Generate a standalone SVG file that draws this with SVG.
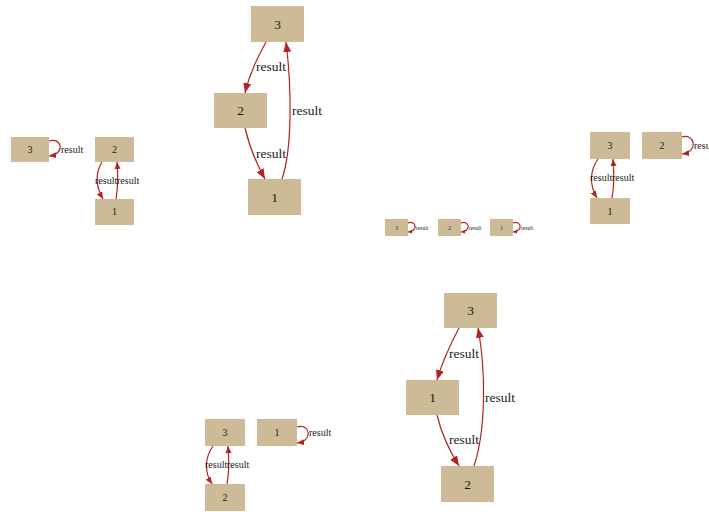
<svg xmlns="http://www.w3.org/2000/svg" width="709" height="512" viewBox="0 0 709 512">
<style>
.n rect{fill:#cdba96;stroke:none}
.n text,.lbl{font-family:"Liberation Serif","Times New Roman",serif;fill:#1a1a1a}
.n text{text-anchor:middle}
.e path{fill:none;stroke:#b22222;stroke-width:1.2}
.big{font-size:13.5px}
.mid{font-size:10px}
.sm{font-size:5.5px}
</style>
<defs>
<marker id="ab" markerUnits="userSpaceOnUse" markerWidth="12" markerHeight="10" refX="10" refY="4" orient="auto"><path d="M0,0 L10,4 L0,8 Z" fill="#b22222"/></marker>
<marker id="am" markerUnits="userSpaceOnUse" markerWidth="9" markerHeight="8" refX="7" refY="3" orient="auto"><path d="M0,0 L7,3 L0,6 Z" fill="#b22222"/></marker>
<marker id="as" markerUnits="userSpaceOnUse" markerWidth="6" markerHeight="5" refX="4" refY="2" orient="auto"><path d="M0,0 L4,2 L0,4 Z" fill="#b22222"/></marker>
</defs>
<!-- Cluster A -->
<g id="a3" class="n"><rect x="11" y="137" width="38" height="25"/><text class="mid" x="30" y="153">3</text></g>
<g id="a2" class="n"><rect x="95" y="137" width="39" height="25"/><text class="mid" x="114.5" y="153">2</text></g>
<g id="a1" class="n"><rect x="95" y="199" width="39" height="26"/><text class="mid" x="114.5" y="215">1</text></g>
<!-- Cluster B -->
<g id="b3" class="n"><rect x="251" y="6" width="53" height="36"/><text class="big" x="277.5" y="28.5">3</text></g>
<g id="b2" class="n"><rect x="214" y="93" width="53" height="35"/><text class="big" x="240.5" y="115">2</text></g>
<g id="b1" class="n"><rect x="248" y="179" width="53" height="36"/><text class="big" x="274.5" y="201.5">1</text></g>
<!-- Cluster C -->
<g id="c3" class="n"><rect x="385" y="219" width="23" height="17"/><text class="sm" x="396.5" y="229.5">3</text></g>
<g id="c2" class="n"><rect x="438" y="219" width="23" height="17"/><text class="sm" x="449.5" y="229.5">2</text></g>
<g id="c1" class="n"><rect x="490" y="219" width="23" height="17"/><text class="sm" x="501.5" y="229.5">1</text></g>
<!-- Cluster D -->
<g id="d3" class="n"><rect x="590" y="132" width="40" height="27"/><text class="mid" x="610" y="149">3</text></g>
<g id="d2" class="n"><rect x="642" y="132" width="40" height="27"/><text class="mid" x="662" y="149">2</text></g>
<g id="d1" class="n"><rect x="590" y="198" width="40" height="26"/><text class="mid" x="610" y="214.5">1</text></g>
<!-- Cluster E -->
<g id="e3" class="n"><rect x="205" y="419" width="40" height="27"/><text class="mid" x="225" y="436">3</text></g>
<g id="e1" class="n"><rect x="257" y="419" width="40" height="27"/><text class="mid" x="277" y="436">1</text></g>
<g id="e2" class="n"><rect x="205" y="484" width="40" height="27"/><text class="mid" x="225" y="501">2</text></g>
<!-- Cluster F -->
<g id="f3" class="n"><rect x="444" y="293" width="53" height="35"/><text class="big" x="470.5" y="315">3</text></g>
<g id="f1" class="n"><rect x="406" y="380" width="53" height="35"/><text class="big" x="432.5" y="402">1</text></g>
<g id="f2" class="n"><rect x="441" y="466" width="53" height="36"/><text class="big" x="467.5" y="488.5">2</text></g>
<g id="edges" class="e">
<!-- A -->
<path d="M49,141 C62,137 66,154 49,156" marker-end="url(#am)"/>
<path d="M102,162 C96,172 95,185 103,199" marker-end="url(#am)"/>
<path d="M116,199 C118,188 118,175 117,162" marker-end="url(#am)"/>
<!-- B -->
<path d="M266,42 C258,57 250,72 245,93" marker-end="url(#ab)"/>
<path d="M245,128 C249,145 256,163 265,179" marker-end="url(#ab)"/>
<path d="M282,179 C292,150 292,90 286,42" marker-end="url(#ab)"/>
<!-- C -->
<path d="M408,223 C416,220 419,231 408,232" marker-end="url(#as)"/>
<path d="M461,223 C469,220 472,231 461,232" marker-end="url(#as)"/>
<path d="M513,223 C521,220 524,231 513,232" marker-end="url(#as)"/>
<!-- D -->
<path d="M598,159 C590,170 589,185 597,198" marker-end="url(#am)"/>
<path d="M612,198 C614,188 614,172 613,159" marker-end="url(#am)"/>
<path d="M682,137 C695,133 699,152 682,154" marker-end="url(#am)"/>
<!-- E -->
<path d="M213,446 C205,457 204,472 212,484" marker-end="url(#am)"/>
<path d="M227,484 C229,474 229,459 228,446" marker-end="url(#am)"/>
<path d="M297,427 C310,423 314,441 297,443" marker-end="url(#am)"/>
<!-- F -->
<path d="M459,328 C451,343 443,360 437,380" marker-end="url(#ab)"/>
<path d="M437,415 C441,432 449,450 459,466" marker-end="url(#ab)"/>
<path d="M474,466 C486,430 486,370 478,328" marker-end="url(#ab)"/>
</g>
<g id="labels">
<text class="lbl mid" x="61" y="153">result</text>
<text class="lbl mid" x="95" y="184">result</text>
<text class="lbl mid" x="117" y="184">result</text>
<text class="lbl big" x="256" y="71">result</text>
<text class="lbl big" x="256" y="158">result</text>
<text class="lbl big" x="292" y="115">result</text>
<text class="lbl sm" x="416" y="229.5">result</text>
<text class="lbl sm" x="469" y="229.5">result</text>
<text class="lbl sm" x="521" y="229.5">result</text>
<text class="lbl mid" x="590" y="181">result</text>
<text class="lbl mid" x="612" y="181">result</text>
<text class="lbl mid" x="694" y="149">result</text>
<text class="lbl mid" x="205" y="468">result</text>
<text class="lbl mid" x="227" y="468">result</text>
<text class="lbl mid" x="309" y="436">result</text>
<text class="lbl big" x="449" y="358">result</text>
<text class="lbl big" x="449" y="444">result</text>
<text class="lbl big" x="485" y="402">result</text>
</g>
</svg>
